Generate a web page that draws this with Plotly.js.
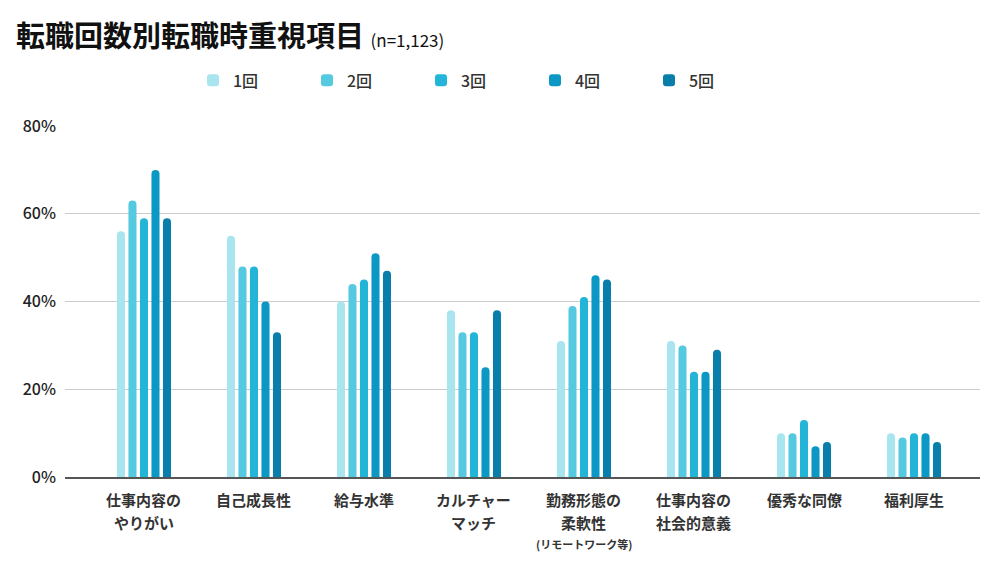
<!DOCTYPE html>
<html>
<head>
<meta charset="utf-8">
<script src="https://cdn.plot.ly/plotly-3.0.1.min.js"></script>
<style>html,body{margin:0;padding:0;background:#fff;}#chart{width:1000px;height:566px;}</style>
</head>
<body>
<div id="chart"></div>
<script>
// ---- data ----
const categories = ["仕事内容のやりがい", "自己成長性", "給与水準", "カルチャーマッチ", "勤務形態の柔軟性", "仕事内容の社会的意義", "優秀な同僚", "福利厚生"];
const labelLine1 = ["仕事内容の", "自己成長性", "給与水準", "カルチャー", "勤務形態の", "仕事内容の", "優秀な同僚", "福利厚生"];
const labelLine2 = ["やりがい", "", "", "マッチ", "柔軟性", "社会的意義", "", ""];
const labelLine3 = ["", "", "", "", "(リモートワーク等)", "", "", ""];
const seriesNames = ["1回", "2回", "3回", "4回", "5回"];
const values1 = [56, 55, 40, 38, 31, 31, 10, 10];
const values2 = [63, 48, 44, 33, 39, 30, 10, 9];
const values3 = [59, 48, 45, 33, 41, 24, 13, 10];
const values4 = [70, 40, 51, 25, 46, 24, 7, 10];
const values5 = [59, 33, 47, 38, 45, 29, 8, 8];
const seriesValues = [values1, values2, values3, values4, values5];
const colors = ["#a9e5ef", "#55c9e0", "#22b5d8", "#0b98c4", "#0a7eab"];
const yTicks = [0, 20, 40, 60, 80];
const titleText = "転職回数別転職時重視項目";
const subtitleText = "(n=1,123)";

const FONT = '"Noto Sans CJK JP", "Noto Sans", sans-serif';

const traces = seriesNames.map((name, i) => ({
  type: "bar",
  name: name,
  x: categories,
  y: seriesValues[i],
  marker: { color: colors[i], cornerradius: 4 },
  hoverinfo: "skip"
}));

const annotations = [];
categories.forEach((c, i) => {
  if (labelLine1[i]) annotations.push({ x: c, xref: "x", y: 0, yref: "paper", yanchor: "top", yshift: -10, text: labelLine1[i], showarrow: false, font: { family: FONT, size: 15, weight: 600, color: "#333" } });
  if (labelLine2[i]) annotations.push({ x: c, xref: "x", y: 0, yref: "paper", yanchor: "top", yshift: -33, text: labelLine2[i], showarrow: false, font: { family: FONT, size: 15, weight: 600, color: "#333" } });
  if (labelLine3[i]) annotations.push({ x: c, xref: "x", y: 0, yref: "paper", yanchor: "top", yshift: -57, text: labelLine3[i], showarrow: false, font: { family: FONT, size: 11, weight: 600, color: "#333" } });
});

const layout = {
  width: 1000, height: 566,
  paper_bgcolor: "#fff", plot_bgcolor: "#fff",
  margin: { l: 65, r: 20, t: 126, b: 89 },
  font: { family: FONT, color: "#222" },
  title: {
    text: "<b>" + titleText + "</b> <span style='font-size:17px'>" + subtitleText + "</span>",
    font: { family: FONT, size: 29, color: "#111" },
    xref: "container", x: 0.016, xanchor: "left",
    yref: "container", y: 0.935, yanchor: "middle"
  },
  barmode: "group",
  bargap: 0.477,
  bargroupgap: 0.3,
  showlegend: true,
  legend: {
    orientation: "h",
    x: 0.193, xanchor: "left", xref: "container",
    y: 0.858, yanchor: "middle", yref: "container",
    font: { family: FONT, size: 16, weight: 500, color: "#333" },
    entrywidth: 69,
    traceorder: "normal"
  },
  xaxis: {
    type: "category",
    range: [-0.718, 7.6],
    showticklabels: false,
    ticks: "",
    showgrid: false,
    zeroline: false,
    showline: true,
    linecolor: "#555",
    linewidth: 1.5,
    fixedrange: true
  },
  yaxis: {
    range: [0, 80],
    tickvals: yTicks,
    ticktext: yTicks.map(v => v + "%"),
    tickfont: { family: FONT, size: 16, weight: 500, color: "#222" },
    showgrid: true,
    gridcolor: "#cccccc",
    gridwidth: 1,
    zeroline: false,
    showline: false,
    ticks: "",
    ticklabelstandoff: 8,
    fixedrange: true
  },
  annotations: annotations
};

Plotly.newPlot("chart", traces, layout, { displayModeBar: false, staticPlot: true });
</script>
</body>
</html>
